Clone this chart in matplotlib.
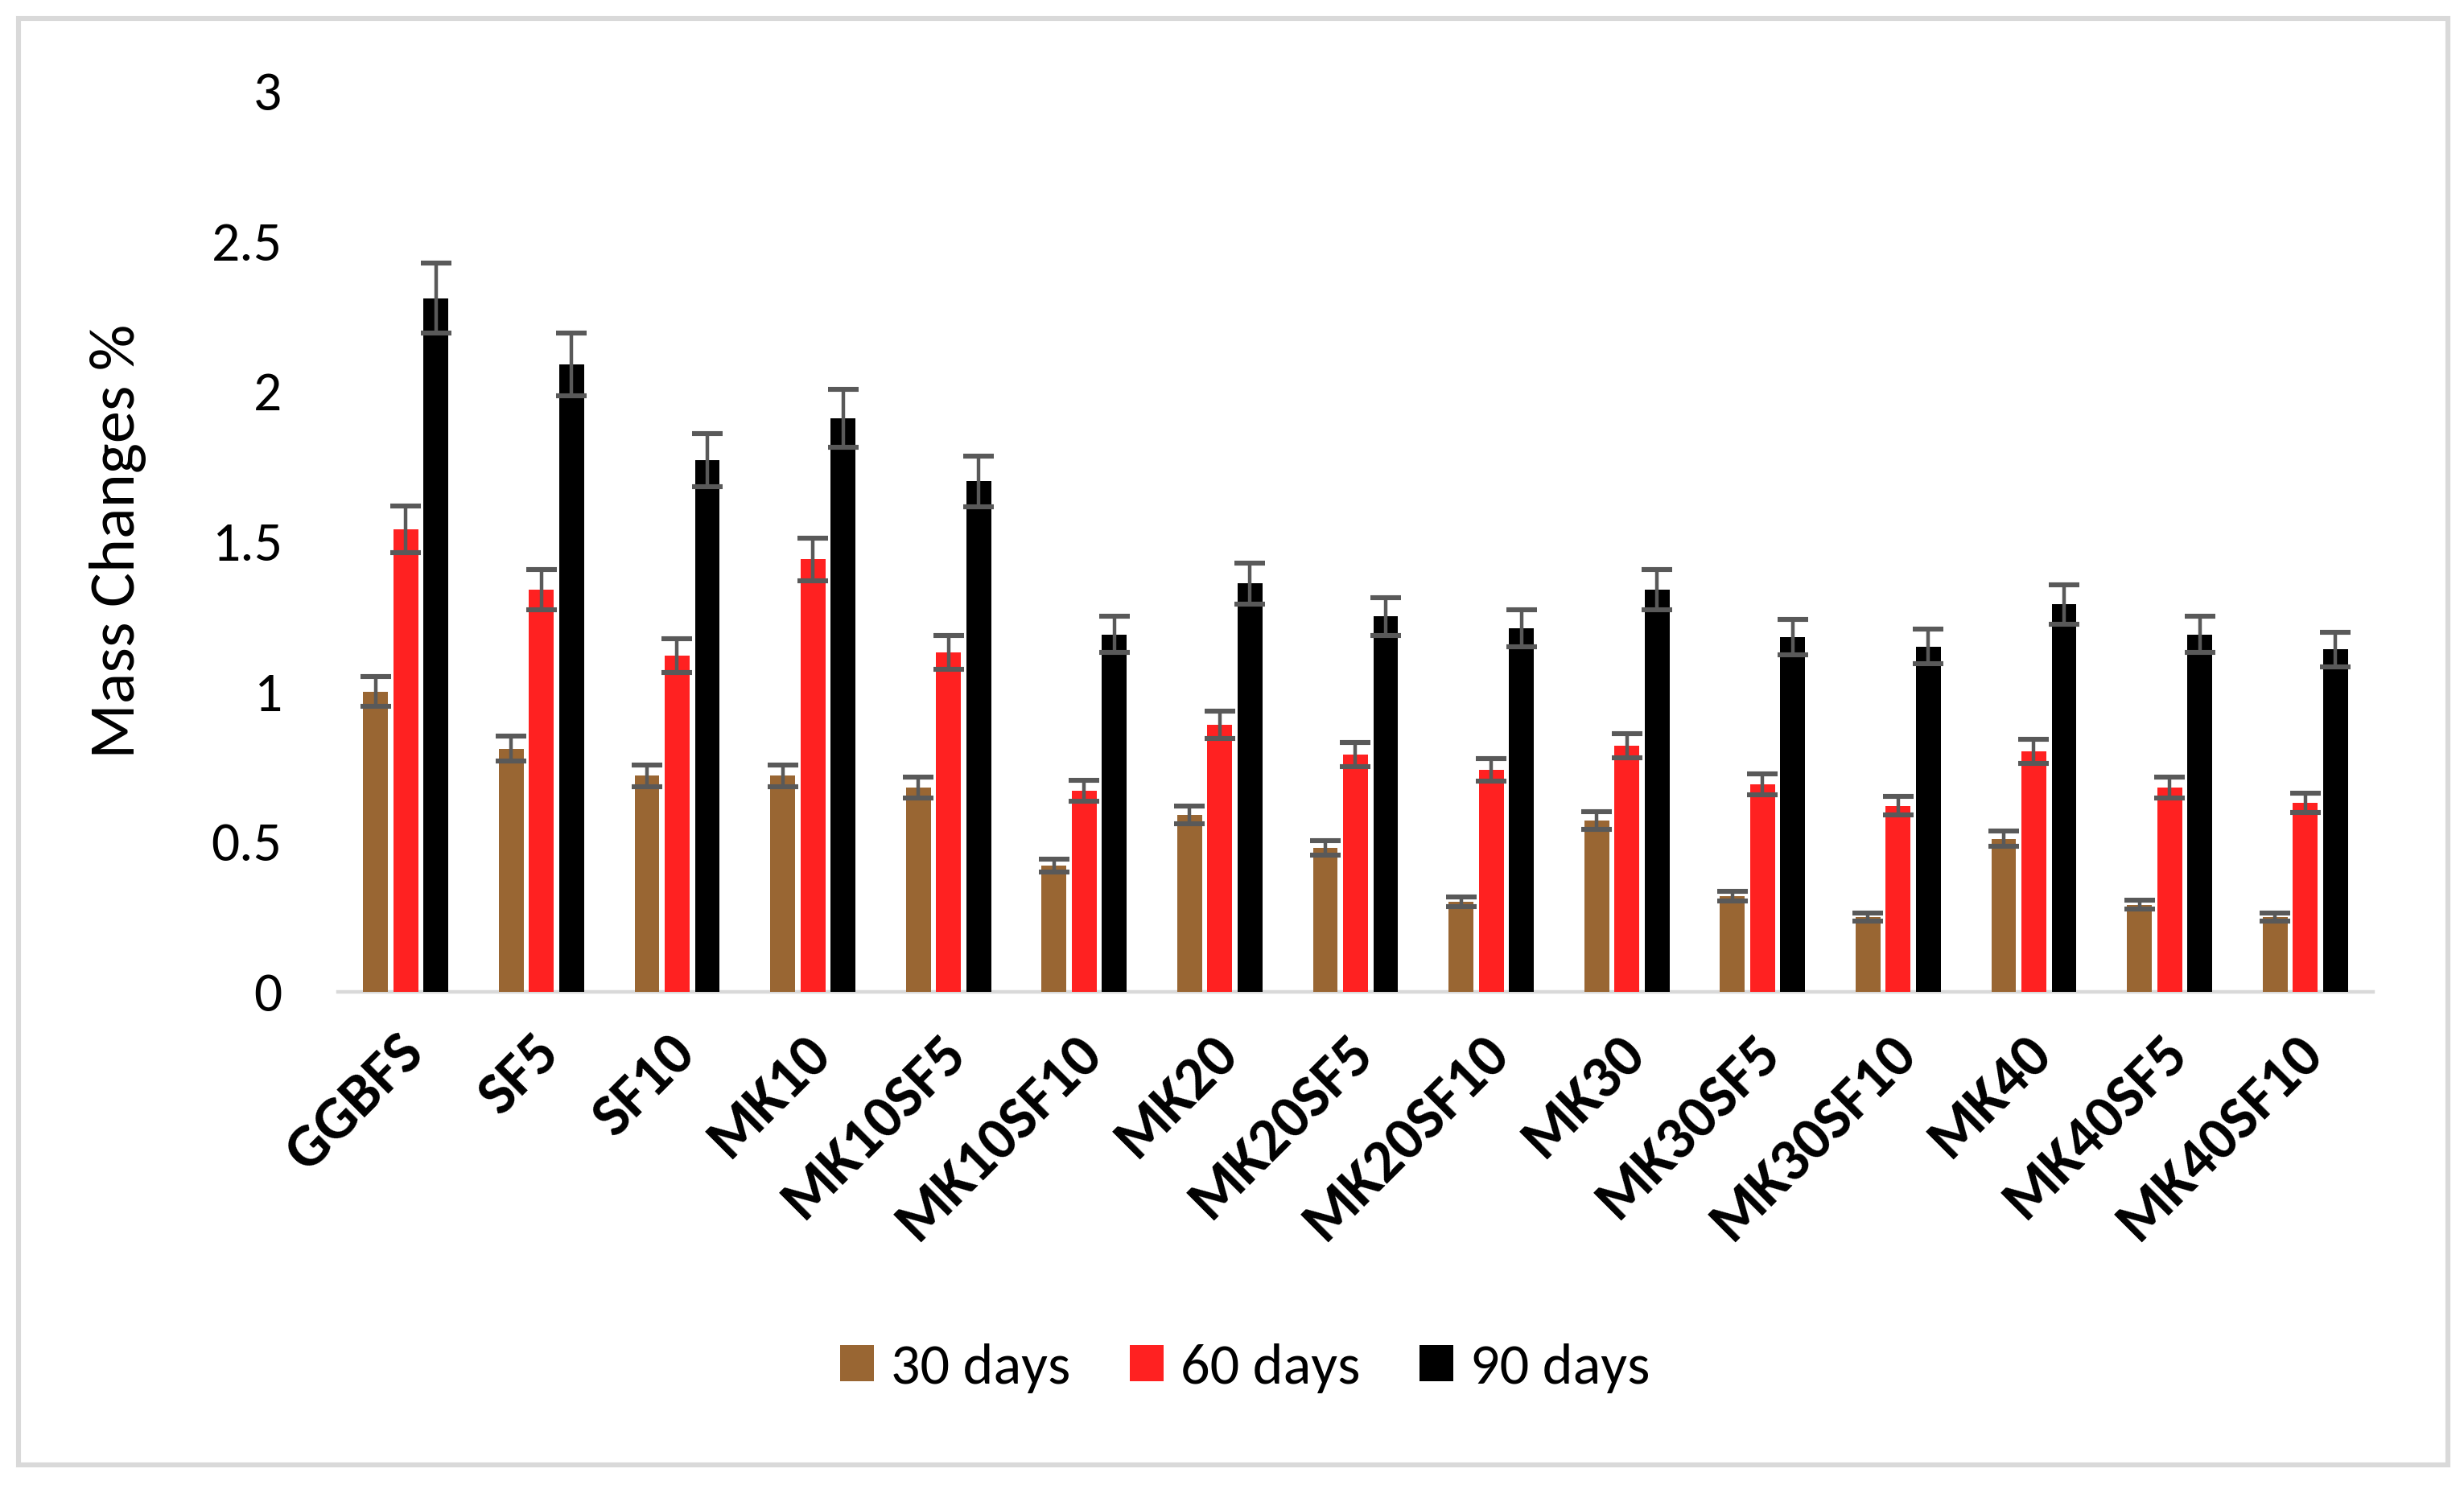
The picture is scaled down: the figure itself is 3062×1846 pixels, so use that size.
import matplotlib
matplotlib.use("Agg")
import matplotlib.pyplot as plt
from matplotlib import font_manager
from matplotlib.patches import Rectangle
import matplotlib.transforms as mtransforms
import numpy as np

categories = ["GGBFS", "SF5", "SF10", "MK10", "MK10SF5", "MK10SF10", "MK20", "MK20SF5",
              "MK20SF10", "MK30", "MK30SF5", "MK30SF10", "MK40", "MK40SF5", "MK40SF10"]
series_names = ["30 days", "60 days", "90 days"]
days30 = [1.00, 0.81, 0.72, 0.72, 0.68, 0.42, 0.59, 0.48, 0.30, 0.57, 0.32, 0.25, 0.51, 0.29, 0.25]
days60 = [1.54, 1.34, 1.12, 1.44, 1.13, 0.67, 0.89, 0.79, 0.74, 0.82, 0.69, 0.62, 0.80, 0.68, 0.63]
days90 = [2.31, 2.09, 1.77, 1.91, 1.70, 1.19, 1.36, 1.25, 1.21, 1.34, 1.18, 1.15, 1.29, 1.19, 1.14]
err30 = [0.050, 0.041, 0.036, 0.036, 0.034, 0.021, 0.030, 0.024, 0.015, 0.029, 0.016, 0.013, 0.026, 0.015, 0.013]
err60 = [0.077, 0.067, 0.056, 0.072, 0.057, 0.034, 0.045, 0.040, 0.037, 0.041, 0.035, 0.031, 0.040, 0.034, 0.032]
err90 = [0.116, 0.105, 0.089, 0.096, 0.085, 0.060, 0.068, 0.063, 0.061, 0.067, 0.059, 0.058, 0.065, 0.060, 0.057]
yticks = [0, 0.5, 1, 1.5, 2, 2.5, 3]
ytick_labels = ["0", "0.5", "1", "1.5", "2", "2.5", "3"]

colors = ["#996633", "#FF2121", "#000000"]

available = {f.name for f in font_manager.fontManager.ttflist}
fam = [f for f in ["Carlito", "Lato", "DejaVu Sans"] if f in available]
plt.rcParams["font.family"] = fam

W, H = 3062, 1846
dpi = 200
fig = plt.figure(figsize=(W / dpi, H / dpi), dpi=dpi)
ax = fig.add_axes([420 / W, 1 - 1233 / H, (2949 - 420) / W, (1233 - 113) / H])

x = np.arange(len(categories))
width = 0.183
step = 0.222
data = [days30, days60, days90]
errs = [err30, err60, err90]
for i, (vals, e) in enumerate(zip(data, errs)):
    ax.bar(x + (i - 1) * step, vals, width, color=colors[i], label=series_names[i],
           yerr=e, zorder=2,
           error_kw=dict(ecolor="#595959", elinewidth=1.6, capsize=7, capthick=2.2, zorder=3))

ax.set_xlim(-0.5, len(categories) - 0.5)
ax.set_ylim(0, 3)
ax.set_yticks(yticks)
ax.set_yticklabels(ytick_labels, fontsize=25)
ax.tick_params(axis="y", length=0, pad=25)
ax.set_xticks(x)
ax.set_xticklabels(categories, fontsize=27, fontweight="bold", rotation=45,
                   ha="right", va="top", rotation_mode="anchor")
ax.tick_params(axis="x", length=0, pad=15)
offset = mtransforms.ScaledTranslation(-12 / dpi, 0, fig.dpi_scale_trans)
for lbl in ax.get_xticklabels():
    lbl.set_transform(lbl.get_transform() + offset)

for s in ["top", "right", "left"]:
    ax.spines[s].set_visible(False)
ax.spines["bottom"].set_color("#d9d9d9")
ax.spines["bottom"].set_linewidth(1.6)
ax.spines["bottom"].set_zorder(1)

ax.set_ylabel("Mass Changes %", fontsize=29)
ax.yaxis.set_label_coords((182 - 420) / (2949 - 420), 0.5)

fig.legend(loc="center", bbox_to_anchor=(1547 / W, 1 - 1701 / H), ncol=3, frameon=False,
           fontsize=26, handlelength=0.58, handleheight=0.58, handletextpad=0.29,
           columnspacing=1.02)

fig.patches.append(Rectangle((23 / W, 1 - 1821 / H), (3042 - 23) / W, (1821 - 23) / H,
                             transform=fig.transFigure, fill=False,
                             edgecolor="#d9d9d9", linewidth=2.2))

fig.savefig("out.png", dpi=dpi, facecolor="white")
